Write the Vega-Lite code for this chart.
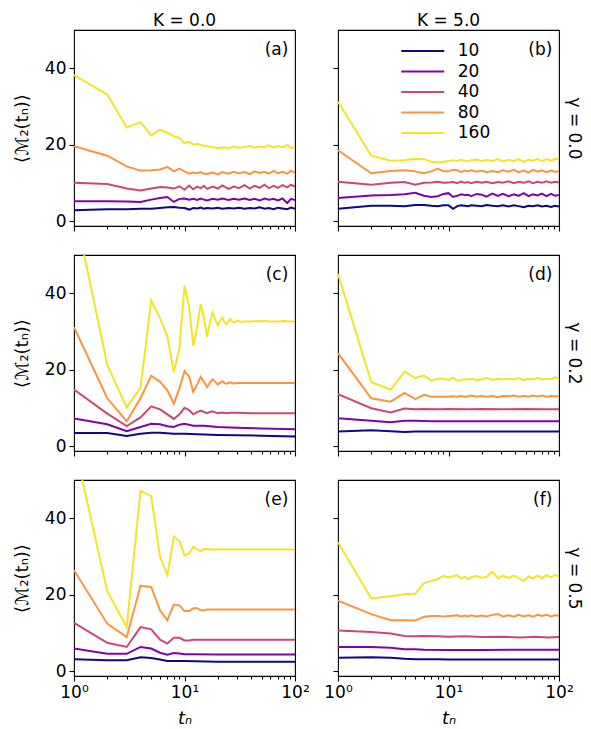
{
"$schema":"https://vega.github.io/schema/vega-lite/v6.json",
"autosize":{"type":"pad"},
"padding":{"left":12,"top":11,"right":5,"bottom":5},
"background":"white",
"spacing":13,
"resolve":{"legend":{"color":"independent"}},
"config":{
 "font":"DejaVu Sans",
 "view":{"stroke":"black","strokeWidth":1.1},
 "axis":{"domain":false,"grid":false,"labelFont":"DejaVu Sans","labelFontSize":17,"labelColor":"black","tickColor":"black","tickWidth":1.1,"tickSize":5,"labelPadding":3,"titleFont":"DejaVu Sans","titleFontSize":17,"titleFontWeight":"normal","titleColor":"black"},
 "title":{"font":"DejaVu Sans","fontSize":17,"fontWeight":"normal","color":"black"},
 "legend":{"labelFont":"DejaVu Sans","labelFontSize":17,"labelColor":"black"}
},
"data":{"values":[
{"p":"a","n":10,"t":1,"m":2.8},{"p":"a","n":10,"t":2,"m":3.1},{"p":"a","n":10,"t":3,"m":3.1},{"p":"a","n":10,"t":4,"m":3.2},{"p":"a","n":10,"t":5,"m":3.2},{"p":"a","n":10,"t":6,"m":3.4},{"p":"a","n":10,"t":7,"m":3.6},{"p":"a","n":10,"t":8,"m":3.7},{"p":"a","n":10,"t":9,"m":3.5},{"p":"a","n":10,"t":10,"m":3.4},{"p":"a","n":10,"t":11,"m":3.0},{"p":"a","n":10,"t":12,"m":3.4},{"p":"a","n":10,"t":13,"m":3.3},{"p":"a","n":10,"t":14,"m":3.5},{"p":"a","n":10,"t":15,"m":3.2},{"p":"a","n":10,"t":16,"m":3.4},{"p":"a","n":10,"t":18,"m":3.3},{"p":"a","n":10,"t":20,"m":3.5},{"p":"a","n":10,"t":22,"m":3.2},{"p":"a","n":10,"t":25,"m":3.4},{"p":"a","n":10,"t":28,"m":3.3},{"p":"a","n":10,"t":31,"m":3.5},{"p":"a","n":10,"t":35,"m":3.2},{"p":"a","n":10,"t":39,"m":3.4},{"p":"a","n":10,"t":43,"m":3.3},{"p":"a","n":10,"t":48,"m":3.6},{"p":"a","n":10,"t":53,"m":3.2},{"p":"a","n":10,"t":58,"m":3.4},{"p":"a","n":10,"t":64,"m":3.1},{"p":"a","n":10,"t":70,"m":3.5},{"p":"a","n":10,"t":77,"m":3.3},{"p":"a","n":10,"t":85,"m":3.1},{"p":"a","n":10,"t":92,"m":3.5},{"p":"a","n":10,"t":100,"m":3.2},
{"p":"a","n":20,"t":1,"m":5.2},{"p":"a","n":20,"t":2,"m":5.2},{"p":"a","n":20,"t":3,"m":5.1},{"p":"a","n":20,"t":4,"m":5.0},{"p":"a","n":20,"t":5,"m":5.6},{"p":"a","n":20,"t":6,"m":6.0},{"p":"a","n":20,"t":7,"m":6.3},{"p":"a","n":20,"t":8,"m":5.0},{"p":"a","n":20,"t":9,"m":5.8},{"p":"a","n":20,"t":10,"m":5.9},{"p":"a","n":20,"t":11,"m":5.6},{"p":"a","n":20,"t":12,"m":5.8},{"p":"a","n":20,"t":13,"m":5.5},{"p":"a","n":20,"t":14,"m":5.9},{"p":"a","n":20,"t":15,"m":5.6},{"p":"a","n":20,"t":16,"m":5.4},{"p":"a","n":20,"t":18,"m":5.8},{"p":"a","n":20,"t":20,"m":5.6},{"p":"a","n":20,"t":22,"m":5.9},{"p":"a","n":20,"t":25,"m":5.5},{"p":"a","n":20,"t":28,"m":5.8},{"p":"a","n":20,"t":31,"m":5.6},{"p":"a","n":20,"t":35,"m":5.9},{"p":"a","n":20,"t":39,"m":5.5},{"p":"a","n":20,"t":43,"m":5.8},{"p":"a","n":20,"t":48,"m":5.4},{"p":"a","n":20,"t":53,"m":5.9},{"p":"a","n":20,"t":58,"m":5.6},{"p":"a","n":20,"t":64,"m":5.8},{"p":"a","n":20,"t":70,"m":5.4},{"p":"a","n":20,"t":77,"m":5.9},{"p":"a","n":20,"t":85,"m":4.7},{"p":"a","n":20,"t":92,"m":5.8},{"p":"a","n":20,"t":100,"m":5.5},
{"p":"a","n":40,"t":1,"m":10.0},{"p":"a","n":40,"t":2,"m":9.7},{"p":"a","n":40,"t":3,"m":8.5},{"p":"a","n":40,"t":4,"m":8.0},{"p":"a","n":40,"t":5,"m":8.5},{"p":"a","n":40,"t":6,"m":8.9},{"p":"a","n":40,"t":7,"m":8.8},{"p":"a","n":40,"t":8,"m":8.5},{"p":"a","n":40,"t":9,"m":9.1},{"p":"a","n":40,"t":10,"m":8.2},{"p":"a","n":40,"t":11,"m":9.3},{"p":"a","n":40,"t":12,"m":8.3},{"p":"a","n":40,"t":13,"m":9.0},{"p":"a","n":40,"t":14,"m":8.6},{"p":"a","n":40,"t":15,"m":9.2},{"p":"a","n":40,"t":16,"m":8.4},{"p":"a","n":40,"t":18,"m":9.0},{"p":"a","n":40,"t":20,"m":8.5},{"p":"a","n":40,"t":22,"m":9.3},{"p":"a","n":40,"t":25,"m":8.4},{"p":"a","n":40,"t":28,"m":9.0},{"p":"a","n":40,"t":31,"m":8.6},{"p":"a","n":40,"t":35,"m":9.4},{"p":"a","n":40,"t":39,"m":8.5},{"p":"a","n":40,"t":43,"m":9.2},{"p":"a","n":40,"t":48,"m":8.7},{"p":"a","n":40,"t":53,"m":9.5},{"p":"a","n":40,"t":58,"m":8.6},{"p":"a","n":40,"t":64,"m":9.2},{"p":"a","n":40,"t":70,"m":8.7},{"p":"a","n":40,"t":77,"m":9.4},{"p":"a","n":40,"t":85,"m":8.8},{"p":"a","n":40,"t":92,"m":9.5},{"p":"a","n":40,"t":100,"m":9.0},
{"p":"a","n":80,"t":1,"m":19.6},{"p":"a","n":80,"t":2,"m":17.1},{"p":"a","n":80,"t":3,"m":14.3},{"p":"a","n":80,"t":4,"m":13.2},{"p":"a","n":80,"t":5,"m":13.3},{"p":"a","n":80,"t":6,"m":13.5},{"p":"a","n":80,"t":7,"m":14.2},{"p":"a","n":80,"t":8,"m":13.0},{"p":"a","n":80,"t":9,"m":13.7},{"p":"a","n":80,"t":10,"m":13.0},{"p":"a","n":80,"t":11,"m":12.4},{"p":"a","n":80,"t":12,"m":12.7},{"p":"a","n":80,"t":13,"m":12.5},{"p":"a","n":80,"t":14,"m":12.8},{"p":"a","n":80,"t":15,"m":12.4},{"p":"a","n":80,"t":16,"m":12.3},{"p":"a","n":80,"t":18,"m":12.7},{"p":"a","n":80,"t":20,"m":12.2},{"p":"a","n":80,"t":22,"m":12.8},{"p":"a","n":80,"t":25,"m":12.4},{"p":"a","n":80,"t":28,"m":12.9},{"p":"a","n":80,"t":31,"m":12.5},{"p":"a","n":80,"t":35,"m":12.8},{"p":"a","n":80,"t":39,"m":12.3},{"p":"a","n":80,"t":43,"m":13.0},{"p":"a","n":80,"t":48,"m":12.6},{"p":"a","n":80,"t":53,"m":12.9},{"p":"a","n":80,"t":58,"m":12.4},{"p":"a","n":80,"t":64,"m":13.1},{"p":"a","n":80,"t":70,"m":12.5},{"p":"a","n":80,"t":77,"m":12.9},{"p":"a","n":80,"t":85,"m":12.4},{"p":"a","n":80,"t":92,"m":13.2},{"p":"a","n":80,"t":100,"m":12.6},
{"p":"a","n":160,"t":1,"m":38.2},{"p":"a","n":160,"t":2,"m":33.1},{"p":"a","n":160,"t":3,"m":24.5},{"p":"a","n":160,"t":4,"m":25.9},{"p":"a","n":160,"t":5,"m":22.4},{"p":"a","n":160,"t":6,"m":23.9},{"p":"a","n":160,"t":7,"m":23.1},{"p":"a","n":160,"t":8,"m":22.2},{"p":"a","n":160,"t":9,"m":21.7},{"p":"a","n":160,"t":10,"m":20.4},{"p":"a","n":160,"t":11,"m":20.7},{"p":"a","n":160,"t":12,"m":20.0},{"p":"a","n":160,"t":13,"m":20.2},{"p":"a","n":160,"t":14,"m":19.9},{"p":"a","n":160,"t":15,"m":19.7},{"p":"a","n":160,"t":16,"m":19.6},{"p":"a","n":160,"t":18,"m":19.4},{"p":"a","n":160,"t":20,"m":19.0},{"p":"a","n":160,"t":22,"m":19.3},{"p":"a","n":160,"t":25,"m":19.1},{"p":"a","n":160,"t":28,"m":19.5},{"p":"a","n":160,"t":31,"m":19.2},{"p":"a","n":160,"t":35,"m":19.4},{"p":"a","n":160,"t":39,"m":19.6},{"p":"a","n":160,"t":43,"m":19.2},{"p":"a","n":160,"t":48,"m":19.5},{"p":"a","n":160,"t":53,"m":19.3},{"p":"a","n":160,"t":58,"m":19.8},{"p":"a","n":160,"t":64,"m":19.2},{"p":"a","n":160,"t":70,"m":19.6},{"p":"a","n":160,"t":77,"m":19.3},{"p":"a","n":160,"t":85,"m":19.9},{"p":"a","n":160,"t":92,"m":19.1},{"p":"a","n":160,"t":100,"m":19.4},
{"p":"b","n":10,"t":1,"m":3.2},{"p":"b","n":10,"t":2,"m":4.0},{"p":"b","n":10,"t":3,"m":4.0},{"p":"b","n":10,"t":4,"m":3.9},{"p":"b","n":10,"t":5,"m":4.2},{"p":"b","n":10,"t":6,"m":4.2},{"p":"b","n":10,"t":7,"m":4.0},{"p":"b","n":10,"t":8,"m":3.9},{"p":"b","n":10,"t":9,"m":4.1},{"p":"b","n":10,"t":10,"m":4.1},{"p":"b","n":10,"t":11,"m":3.2},{"p":"b","n":10,"t":12,"m":3.9},{"p":"b","n":10,"t":13,"m":4.1},{"p":"b","n":10,"t":14,"m":4.0},{"p":"b","n":10,"t":15,"m":3.9},{"p":"b","n":10,"t":16,"m":4.1},{"p":"b","n":10,"t":18,"m":4.0},{"p":"b","n":10,"t":20,"m":3.9},{"p":"b","n":10,"t":22,"m":4.2},{"p":"b","n":10,"t":25,"m":4.0},{"p":"b","n":10,"t":28,"m":3.9},{"p":"b","n":10,"t":31,"m":4.1},{"p":"b","n":10,"t":35,"m":3.8},{"p":"b","n":10,"t":39,"m":4.1},{"p":"b","n":10,"t":43,"m":3.9},{"p":"b","n":10,"t":48,"m":3.6},{"p":"b","n":10,"t":53,"m":4.0},{"p":"b","n":10,"t":58,"m":3.9},{"p":"b","n":10,"t":64,"m":4.1},{"p":"b","n":10,"t":70,"m":3.8},{"p":"b","n":10,"t":77,"m":4.0},{"p":"b","n":10,"t":85,"m":3.7},{"p":"b","n":10,"t":92,"m":4.0},{"p":"b","n":10,"t":100,"m":3.8},
{"p":"b","n":20,"t":1,"m":6.0},{"p":"b","n":20,"t":2,"m":6.7},{"p":"b","n":20,"t":3,"m":6.8},{"p":"b","n":20,"t":4,"m":7.0},{"p":"b","n":20,"t":5,"m":7.4},{"p":"b","n":20,"t":6,"m":6.6},{"p":"b","n":20,"t":7,"m":6.3},{"p":"b","n":20,"t":8,"m":6.5},{"p":"b","n":20,"t":9,"m":7.1},{"p":"b","n":20,"t":10,"m":7.3},{"p":"b","n":20,"t":11,"m":6.3},{"p":"b","n":20,"t":12,"m":6.6},{"p":"b","n":20,"t":13,"m":7.0},{"p":"b","n":20,"t":14,"m":6.8},{"p":"b","n":20,"t":15,"m":6.9},{"p":"b","n":20,"t":16,"m":6.5},{"p":"b","n":20,"t":18,"m":7.1},{"p":"b","n":20,"t":20,"m":6.9},{"p":"b","n":20,"t":22,"m":6.4},{"p":"b","n":20,"t":25,"m":7.2},{"p":"b","n":20,"t":28,"m":6.6},{"p":"b","n":20,"t":31,"m":7.1},{"p":"b","n":20,"t":35,"m":6.5},{"p":"b","n":20,"t":39,"m":7.0},{"p":"b","n":20,"t":43,"m":6.6},{"p":"b","n":20,"t":48,"m":7.3},{"p":"b","n":20,"t":53,"m":6.5},{"p":"b","n":20,"t":58,"m":7.0},{"p":"b","n":20,"t":64,"m":6.7},{"p":"b","n":20,"t":70,"m":7.2},{"p":"b","n":20,"t":77,"m":6.5},{"p":"b","n":20,"t":85,"m":7.1},{"p":"b","n":20,"t":92,"m":6.6},{"p":"b","n":20,"t":100,"m":6.8},
{"p":"b","n":40,"t":1,"m":10.3},{"p":"b","n":40,"t":2,"m":9.5},{"p":"b","n":40,"t":3,"m":10.0},{"p":"b","n":40,"t":4,"m":10.2},{"p":"b","n":40,"t":5,"m":9.5},{"p":"b","n":40,"t":6,"m":10.0},{"p":"b","n":40,"t":7,"m":10.1},{"p":"b","n":40,"t":8,"m":10.3},{"p":"b","n":40,"t":9,"m":10.0},{"p":"b","n":40,"t":10,"m":10.1},{"p":"b","n":40,"t":11,"m":10.2},{"p":"b","n":40,"t":12,"m":9.9},{"p":"b","n":40,"t":13,"m":10.3},{"p":"b","n":40,"t":14,"m":10.0},{"p":"b","n":40,"t":15,"m":10.2},{"p":"b","n":40,"t":16,"m":9.9},{"p":"b","n":40,"t":18,"m":10.3},{"p":"b","n":40,"t":20,"m":10.0},{"p":"b","n":40,"t":22,"m":10.3},{"p":"b","n":40,"t":25,"m":9.9},{"p":"b","n":40,"t":28,"m":10.2},{"p":"b","n":40,"t":31,"m":10.0},{"p":"b","n":40,"t":35,"m":10.4},{"p":"b","n":40,"t":39,"m":9.9},{"p":"b","n":40,"t":43,"m":10.3},{"p":"b","n":40,"t":48,"m":10.0},{"p":"b","n":40,"t":53,"m":10.4},{"p":"b","n":40,"t":58,"m":9.9},{"p":"b","n":40,"t":64,"m":10.3},{"p":"b","n":40,"t":70,"m":10.0},{"p":"b","n":40,"t":77,"m":10.4},{"p":"b","n":40,"t":85,"m":10.0},{"p":"b","n":40,"t":92,"m":10.3},{"p":"b","n":40,"t":100,"m":10.1},
{"p":"b","n":80,"t":1,"m":18.5},{"p":"b","n":80,"t":2,"m":12.5},{"p":"b","n":80,"t":3,"m":13.1},{"p":"b","n":80,"t":4,"m":13.3},{"p":"b","n":80,"t":5,"m":13.0},{"p":"b","n":80,"t":6,"m":12.5},{"p":"b","n":80,"t":7,"m":13.0},{"p":"b","n":80,"t":8,"m":13.7},{"p":"b","n":80,"t":9,"m":13.0},{"p":"b","n":80,"t":10,"m":13.0},{"p":"b","n":80,"t":11,"m":13.4},{"p":"b","n":80,"t":12,"m":13.3},{"p":"b","n":80,"t":13,"m":12.8},{"p":"b","n":80,"t":14,"m":13.2},{"p":"b","n":80,"t":15,"m":13.0},{"p":"b","n":80,"t":16,"m":13.3},{"p":"b","n":80,"t":18,"m":12.9},{"p":"b","n":80,"t":20,"m":13.2},{"p":"b","n":80,"t":22,"m":12.8},{"p":"b","n":80,"t":25,"m":13.1},{"p":"b","n":80,"t":28,"m":12.8},{"p":"b","n":80,"t":31,"m":13.3},{"p":"b","n":80,"t":35,"m":12.9},{"p":"b","n":80,"t":39,"m":13.4},{"p":"b","n":80,"t":43,"m":12.8},{"p":"b","n":80,"t":48,"m":13.2},{"p":"b","n":80,"t":53,"m":12.7},{"p":"b","n":80,"t":58,"m":13.4},{"p":"b","n":80,"t":64,"m":12.9},{"p":"b","n":80,"t":70,"m":13.3},{"p":"b","n":80,"t":77,"m":12.8},{"p":"b","n":80,"t":85,"m":13.2},{"p":"b","n":80,"t":92,"m":12.9},{"p":"b","n":80,"t":100,"m":13.0},
{"p":"b","n":160,"t":1,"m":31.2},{"p":"b","n":160,"t":2,"m":17.1},{"p":"b","n":160,"t":3,"m":15.8},{"p":"b","n":160,"t":4,"m":15.9},{"p":"b","n":160,"t":5,"m":16.3},{"p":"b","n":160,"t":6,"m":16.2},{"p":"b","n":160,"t":7,"m":15.5},{"p":"b","n":160,"t":8,"m":15.3},{"p":"b","n":160,"t":9,"m":15.5},{"p":"b","n":160,"t":10,"m":15.7},{"p":"b","n":160,"t":11,"m":15.9},{"p":"b","n":160,"t":12,"m":15.7},{"p":"b","n":160,"t":13,"m":16.0},{"p":"b","n":160,"t":14,"m":15.8},{"p":"b","n":160,"t":15,"m":15.6},{"p":"b","n":160,"t":16,"m":15.9},{"p":"b","n":160,"t":18,"m":16.1},{"p":"b","n":160,"t":20,"m":15.7},{"p":"b","n":160,"t":22,"m":16.0},{"p":"b","n":160,"t":25,"m":15.8},{"p":"b","n":160,"t":28,"m":16.2},{"p":"b","n":160,"t":31,"m":15.6},{"p":"b","n":160,"t":35,"m":16.0},{"p":"b","n":160,"t":39,"m":15.7},{"p":"b","n":160,"t":43,"m":16.2},{"p":"b","n":160,"t":48,"m":15.5},{"p":"b","n":160,"t":53,"m":16.1},{"p":"b","n":160,"t":58,"m":15.8},{"p":"b","n":160,"t":64,"m":16.3},{"p":"b","n":160,"t":70,"m":15.7},{"p":"b","n":160,"t":77,"m":16.2},{"p":"b","n":160,"t":85,"m":15.8},{"p":"b","n":160,"t":92,"m":16.3},{"p":"b","n":160,"t":100,"m":16.2},
{"p":"c","n":10,"t":1,"m":3.4},{"p":"c","n":10,"t":2,"m":3.4},{"p":"c","n":10,"t":3,"m":2.6},{"p":"c","n":10,"t":4,"m":3.2},{"p":"c","n":10,"t":5,"m":3.5},{"p":"c","n":10,"t":6,"m":3.5},{"p":"c","n":10,"t":8,"m":3.2},{"p":"c","n":10,"t":10,"m":3.2},{"p":"c","n":10,"t":15,"m":3.0},{"p":"c","n":10,"t":20,"m":2.9},{"p":"c","n":10,"t":50,"m":2.7},{"p":"c","n":10,"t":100,"m":2.5},
{"p":"c","n":20,"t":1,"m":7.2},{"p":"c","n":20,"t":2,"m":5.7},{"p":"c","n":20,"t":3,"m":3.9},{"p":"c","n":20,"t":4,"m":5.0},{"p":"c","n":20,"t":5,"m":5.8},{"p":"c","n":20,"t":6,"m":5.7},{"p":"c","n":20,"t":7,"m":5.2},{"p":"c","n":20,"t":8,"m":5.0},{"p":"c","n":20,"t":9,"m":5.6},{"p":"c","n":20,"t":10,"m":5.8},{"p":"c","n":20,"t":12,"m":5.3},{"p":"c","n":20,"t":15,"m":5.3},{"p":"c","n":20,"t":20,"m":5.0},{"p":"c","n":20,"t":30,"m":4.8},{"p":"c","n":20,"t":50,"m":4.6},{"p":"c","n":20,"t":100,"m":4.4},
{"p":"c","n":40,"t":1,"m":14.8},{"p":"c","n":40,"t":2,"m":8.5},{"p":"c","n":40,"t":3,"m":5.2},{"p":"c","n":40,"t":4,"m":7.5},{"p":"c","n":40,"t":5,"m":10.4},{"p":"c","n":40,"t":6,"m":9.6},{"p":"c","n":40,"t":7,"m":8.3},{"p":"c","n":40,"t":8,"m":7.1},{"p":"c","n":40,"t":9,"m":8.3},{"p":"c","n":40,"t":10,"m":10.0},{"p":"c","n":40,"t":11,"m":9.4},{"p":"c","n":40,"t":12,"m":8.3},{"p":"c","n":40,"t":13,"m":8.9},{"p":"c","n":40,"t":14,"m":9.3},{"p":"c","n":40,"t":15,"m":8.9},{"p":"c","n":40,"t":16,"m":8.6},{"p":"c","n":40,"t":17,"m":8.9},{"p":"c","n":40,"t":18,"m":9.1},{"p":"c","n":40,"t":19,"m":8.8},{"p":"c","n":40,"t":20,"m":8.6},{"p":"c","n":40,"t":22,"m":8.8},{"p":"c","n":40,"t":24,"m":8.6},{"p":"c","n":40,"t":26,"m":8.7},{"p":"c","n":40,"t":30,"m":8.7},{"p":"c","n":40,"t":40,"m":8.6},{"p":"c","n":40,"t":60,"m":8.6},{"p":"c","n":40,"t":100,"m":8.6},
{"p":"c","n":80,"t":1,"m":31.1},{"p":"c","n":80,"t":2,"m":12.5},{"p":"c","n":80,"t":3,"m":6.5},{"p":"c","n":80,"t":4,"m":12.5},{"p":"c","n":80,"t":5,"m":18.4},{"p":"c","n":80,"t":6,"m":16.8},{"p":"c","n":80,"t":7,"m":14.6},{"p":"c","n":80,"t":8,"m":11.1},{"p":"c","n":80,"t":9,"m":15.1},{"p":"c","n":80,"t":10,"m":19.6},{"p":"c","n":80,"t":11,"m":18.2},{"p":"c","n":80,"t":12,"m":14.2},{"p":"c","n":80,"t":13,"m":16.0},{"p":"c","n":80,"t":14,"m":18.1},{"p":"c","n":80,"t":15,"m":16.8},{"p":"c","n":80,"t":16,"m":15.4},{"p":"c","n":80,"t":17,"m":16.6},{"p":"c","n":80,"t":18,"m":17.5},{"p":"c","n":80,"t":19,"m":16.8},{"p":"c","n":80,"t":20,"m":16.1},{"p":"c","n":80,"t":21,"m":16.6},{"p":"c","n":80,"t":22,"m":16.9},{"p":"c","n":80,"t":23,"m":16.5},{"p":"c","n":80,"t":24,"m":16.3},{"p":"c","n":80,"t":25,"m":16.5},{"p":"c","n":80,"t":26,"m":16.7},{"p":"c","n":80,"t":27,"m":16.5},{"p":"c","n":80,"t":28,"m":16.4},{"p":"c","n":80,"t":30,"m":16.5},{"p":"c","n":80,"t":40,"m":16.5},{"p":"c","n":80,"t":60,"m":16.5},{"p":"c","n":80,"t":100,"m":16.5},
{"p":"c","n":160,"t":1,"m":62.8},{"p":"c","n":160,"t":2,"m":21.2},{"p":"c","n":160,"t":3,"m":10.1},{"p":"c","n":160,"t":4,"m":15.3},{"p":"c","n":160,"t":5,"m":38.1},{"p":"c","n":160,"t":6,"m":33.5},{"p":"c","n":160,"t":7,"m":28.7},{"p":"c","n":160,"t":8,"m":19.3},{"p":"c","n":160,"t":9,"m":25.6},{"p":"c","n":160,"t":10,"m":42.0},{"p":"c","n":160,"t":11,"m":36.6},{"p":"c","n":160,"t":12,"m":26.3},{"p":"c","n":160,"t":13,"m":31.0},{"p":"c","n":160,"t":14,"m":37.2},{"p":"c","n":160,"t":15,"m":33.5},{"p":"c","n":160,"t":16,"m":28.6},{"p":"c","n":160,"t":17,"m":32.5},{"p":"c","n":160,"t":18,"m":35.0},{"p":"c","n":160,"t":19,"m":33.0},{"p":"c","n":160,"t":20,"m":31.6},{"p":"c","n":160,"t":21,"m":32.8},{"p":"c","n":160,"t":22,"m":33.6},{"p":"c","n":160,"t":23,"m":32.5},{"p":"c","n":160,"t":24,"m":31.9},{"p":"c","n":160,"t":25,"m":32.6},{"p":"c","n":160,"t":26,"m":33.2},{"p":"c","n":160,"t":27,"m":32.6},{"p":"c","n":160,"t":28,"m":32.3},{"p":"c","n":160,"t":29,"m":32.6},{"p":"c","n":160,"t":30,"m":32.9},{"p":"c","n":160,"t":32,"m":32.5},{"p":"c","n":160,"t":35,"m":32.6},{"p":"c","n":160,"t":40,"m":32.6},{"p":"c","n":160,"t":50,"m":32.7},{"p":"c","n":160,"t":60,"m":32.6},{"p":"c","n":160,"t":70,"m":32.6},{"p":"c","n":160,"t":80,"m":32.7},{"p":"c","n":160,"t":90,"m":32.6},{"p":"c","n":160,"t":100,"m":32.6},
{"p":"d","n":10,"t":1,"m":3.8},{"p":"d","n":10,"t":2,"m":4.1},{"p":"d","n":10,"t":3,"m":3.9},{"p":"d","n":10,"t":4,"m":3.7},{"p":"d","n":10,"t":5,"m":3.8},{"p":"d","n":10,"t":10,"m":3.8},{"p":"d","n":10,"t":100,"m":3.8},
{"p":"d","n":20,"t":1,"m":7.3},{"p":"d","n":20,"t":2,"m":6.6},{"p":"d","n":20,"t":3,"m":6.2},{"p":"d","n":20,"t":4,"m":6.6},{"p":"d","n":20,"t":5,"m":6.6},{"p":"d","n":20,"t":7,"m":6.5},{"p":"d","n":20,"t":10,"m":6.5},{"p":"d","n":20,"t":20,"m":6.5},{"p":"d","n":20,"t":50,"m":6.5},{"p":"d","n":20,"t":100,"m":6.5},
{"p":"d","n":40,"t":1,"m":13.6},{"p":"d","n":40,"t":2,"m":9.9},{"p":"d","n":40,"t":3,"m":8.8},{"p":"d","n":40,"t":4,"m":9.8},{"p":"d","n":40,"t":5,"m":9.6},{"p":"d","n":40,"t":6,"m":9.7},{"p":"d","n":40,"t":8,"m":9.6},{"p":"d","n":40,"t":10,"m":9.7},{"p":"d","n":40,"t":15,"m":9.6},{"p":"d","n":40,"t":20,"m":9.7},{"p":"d","n":40,"t":30,"m":9.6},{"p":"d","n":40,"t":50,"m":9.7},{"p":"d","n":40,"t":70,"m":9.6},{"p":"d","n":40,"t":100,"m":9.6},
{"p":"d","n":80,"t":1,"m":24.3},{"p":"d","n":80,"t":2,"m":12.5},{"p":"d","n":80,"t":3,"m":11.6},{"p":"d","n":80,"t":4,"m":13.9},{"p":"d","n":80,"t":5,"m":12.3},{"p":"d","n":80,"t":6,"m":13.4},{"p":"d","n":80,"t":7,"m":12.9},{"p":"d","n":80,"t":8,"m":12.9},{"p":"d","n":80,"t":9,"m":12.9},{"p":"d","n":80,"t":10,"m":12.9},{"p":"d","n":80,"t":11,"m":13.0},{"p":"d","n":80,"t":12,"m":12.9},{"p":"d","n":80,"t":13,"m":13.1},{"p":"d","n":80,"t":14,"m":12.9},{"p":"d","n":80,"t":15,"m":13.0},{"p":"d","n":80,"t":16,"m":13.2},{"p":"d","n":80,"t":18,"m":12.9},{"p":"d","n":80,"t":20,"m":13.1},{"p":"d","n":80,"t":22,"m":12.9},{"p":"d","n":80,"t":25,"m":13.1},{"p":"d","n":80,"t":28,"m":12.8},{"p":"d","n":80,"t":31,"m":13.1},{"p":"d","n":80,"t":35,"m":13.0},{"p":"d","n":80,"t":39,"m":13.2},{"p":"d","n":80,"t":43,"m":12.9},{"p":"d","n":80,"t":48,"m":13.1},{"p":"d","n":80,"t":53,"m":12.9},{"p":"d","n":80,"t":58,"m":13.2},{"p":"d","n":80,"t":64,"m":13.0},{"p":"d","n":80,"t":70,"m":13.2},{"p":"d","n":80,"t":77,"m":12.9},{"p":"d","n":80,"t":85,"m":13.1},{"p":"d","n":80,"t":92,"m":13.0},{"p":"d","n":80,"t":100,"m":13.0},
{"p":"d","n":160,"t":1,"m":45.1},{"p":"d","n":160,"t":2,"m":16.7},{"p":"d","n":160,"t":3,"m":14.8},{"p":"d","n":160,"t":4,"m":19.5},{"p":"d","n":160,"t":5,"m":17.8},{"p":"d","n":160,"t":6,"m":18.5},{"p":"d","n":160,"t":7,"m":17.1},{"p":"d","n":160,"t":8,"m":17.6},{"p":"d","n":160,"t":9,"m":17.6},{"p":"d","n":160,"t":10,"m":17.3},{"p":"d","n":160,"t":11,"m":17.9},{"p":"d","n":160,"t":12,"m":17.1},{"p":"d","n":160,"t":13,"m":17.2},{"p":"d","n":160,"t":14,"m":17.5},{"p":"d","n":160,"t":15,"m":17.4},{"p":"d","n":160,"t":16,"m":17.6},{"p":"d","n":160,"t":18,"m":17.3},{"p":"d","n":160,"t":20,"m":17.5},{"p":"d","n":160,"t":22,"m":17.8},{"p":"d","n":160,"t":25,"m":17.3},{"p":"d","n":160,"t":28,"m":17.6},{"p":"d","n":160,"t":31,"m":17.4},{"p":"d","n":160,"t":35,"m":17.7},{"p":"d","n":160,"t":39,"m":17.4},{"p":"d","n":160,"t":43,"m":17.8},{"p":"d","n":160,"t":48,"m":17.3},{"p":"d","n":160,"t":53,"m":17.6},{"p":"d","n":160,"t":58,"m":17.4},{"p":"d","n":160,"t":64,"m":17.9},{"p":"d","n":160,"t":70,"m":17.4},{"p":"d","n":160,"t":77,"m":17.7},{"p":"d","n":160,"t":85,"m":17.5},{"p":"d","n":160,"t":92,"m":17.9},{"p":"d","n":160,"t":100,"m":17.8},
{"p":"e","n":10,"t":1,"m":3.1},{"p":"e","n":10,"t":2,"m":2.8},{"p":"e","n":10,"t":3,"m":2.8},{"p":"e","n":10,"t":4,"m":3.6},{"p":"e","n":10,"t":5,"m":3.4},{"p":"e","n":10,"t":6,"m":3.0},{"p":"e","n":10,"t":7,"m":2.6},{"p":"e","n":10,"t":10,"m":2.6},{"p":"e","n":10,"t":20,"m":2.4},{"p":"e","n":10,"t":100,"m":2.4},
{"p":"e","n":20,"t":1,"m":5.9},{"p":"e","n":20,"t":2,"m":4.5},{"p":"e","n":20,"t":3,"m":4.5},{"p":"e","n":20,"t":4,"m":6.3},{"p":"e","n":20,"t":5,"m":5.9},{"p":"e","n":20,"t":6,"m":4.8},{"p":"e","n":20,"t":7,"m":4.3},{"p":"e","n":20,"t":8,"m":4.7},{"p":"e","n":20,"t":9,"m":4.6},{"p":"e","n":20,"t":10,"m":4.4},{"p":"e","n":20,"t":12,"m":4.4},{"p":"e","n":20,"t":20,"m":4.3},{"p":"e","n":20,"t":100,"m":4.3},
{"p":"e","n":40,"t":1,"m":12.6},{"p":"e","n":40,"t":2,"m":7.4},{"p":"e","n":40,"t":3,"m":6.3},{"p":"e","n":40,"t":4,"m":11.5},{"p":"e","n":40,"t":5,"m":10.9},{"p":"e","n":40,"t":6,"m":8.2},{"p":"e","n":40,"t":7,"m":7.2},{"p":"e","n":40,"t":8,"m":8.7},{"p":"e","n":40,"t":9,"m":8.7},{"p":"e","n":40,"t":10,"m":8.0},{"p":"e","n":40,"t":11,"m":8.0},{"p":"e","n":40,"t":12,"m":8.2},{"p":"e","n":40,"t":15,"m":8.2},{"p":"e","n":40,"t":30,"m":8.2},{"p":"e","n":40,"t":100,"m":8.2},
{"p":"e","n":80,"t":1,"m":26.4},{"p":"e","n":80,"t":2,"m":12.4},{"p":"e","n":80,"t":3,"m":8.9},{"p":"e","n":80,"t":4,"m":22.3},{"p":"e","n":80,"t":5,"m":22.0},{"p":"e","n":80,"t":6,"m":15.9},{"p":"e","n":80,"t":7,"m":13.3},{"p":"e","n":80,"t":8,"m":17.4},{"p":"e","n":80,"t":9,"m":17.2},{"p":"e","n":80,"t":10,"m":15.7},{"p":"e","n":80,"t":11,"m":15.7},{"p":"e","n":80,"t":12,"m":16.4},{"p":"e","n":80,"t":13,"m":16.4},{"p":"e","n":80,"t":14,"m":15.9},{"p":"e","n":80,"t":15,"m":15.9},{"p":"e","n":80,"t":16,"m":16.1},{"p":"e","n":80,"t":20,"m":16.1},{"p":"e","n":80,"t":50,"m":16.1},{"p":"e","n":80,"t":100,"m":16.1},
{"p":"e","n":160,"t":1,"m":59.7},{"p":"e","n":160,"t":2,"m":20.9},{"p":"e","n":160,"t":3,"m":11.5},{"p":"e","n":160,"t":4,"m":47.2},{"p":"e","n":160,"t":5,"m":45.8},{"p":"e","n":160,"t":6,"m":29.9},{"p":"e","n":160,"t":7,"m":25.1},{"p":"e","n":160,"t":8,"m":35.2},{"p":"e","n":160,"t":9,"m":34.0},{"p":"e","n":160,"t":10,"m":30.2},{"p":"e","n":160,"t":11,"m":30.8},{"p":"e","n":160,"t":12,"m":32.5},{"p":"e","n":160,"t":13,"m":31.9},{"p":"e","n":160,"t":14,"m":31.4},{"p":"e","n":160,"t":15,"m":31.9},{"p":"e","n":160,"t":16,"m":32.0},{"p":"e","n":160,"t":17,"m":31.8},{"p":"e","n":160,"t":20,"m":31.8},{"p":"e","n":160,"t":30,"m":31.8},{"p":"e","n":160,"t":50,"m":31.8},{"p":"e","n":160,"t":100,"m":31.8},
{"p":"f","n":10,"t":1,"m":3.5},{"p":"f","n":10,"t":2,"m":3.6},{"p":"f","n":10,"t":3,"m":3.5},{"p":"f","n":10,"t":4,"m":3.2},{"p":"f","n":10,"t":5,"m":3.1},{"p":"f","n":10,"t":8,"m":3.1},{"p":"f","n":10,"t":10,"m":3.0},{"p":"f","n":10,"t":30,"m":3.0},{"p":"f","n":10,"t":100,"m":3.0},
{"p":"f","n":20,"t":1,"m":6.3},{"p":"f","n":20,"t":2,"m":6.3},{"p":"f","n":20,"t":3,"m":6.1},{"p":"f","n":20,"t":4,"m":5.7},{"p":"f","n":20,"t":5,"m":5.7},{"p":"f","n":20,"t":6,"m":5.6},{"p":"f","n":20,"t":10,"m":5.5},{"p":"f","n":20,"t":20,"m":5.5},{"p":"f","n":20,"t":50,"m":5.6},{"p":"f","n":20,"t":100,"m":5.6},
{"p":"f","n":40,"t":1,"m":10.6},{"p":"f","n":40,"t":2,"m":10.2},{"p":"f","n":40,"t":3,"m":9.8},{"p":"f","n":40,"t":4,"m":9.2},{"p":"f","n":40,"t":5,"m":9.1},{"p":"f","n":40,"t":6,"m":9.2},{"p":"f","n":40,"t":8,"m":9.1},{"p":"f","n":40,"t":10,"m":9.0},{"p":"f","n":40,"t":14,"m":9.1},{"p":"f","n":40,"t":20,"m":8.9},{"p":"f","n":40,"t":30,"m":9.0},{"p":"f","n":40,"t":45,"m":8.8},{"p":"f","n":40,"t":60,"m":9.0},{"p":"f","n":40,"t":80,"m":8.8},{"p":"f","n":40,"t":100,"m":8.9},
{"p":"f","n":80,"t":1,"m":18.4},{"p":"f","n":80,"t":2,"m":14.9},{"p":"f","n":80,"t":3,"m":13.3},{"p":"f","n":80,"t":4,"m":13.3},{"p":"f","n":80,"t":5,"m":13.2},{"p":"f","n":80,"t":6,"m":14.2},{"p":"f","n":80,"t":7,"m":14.4},{"p":"f","n":80,"t":8,"m":14.4},{"p":"f","n":80,"t":9,"m":14.3},{"p":"f","n":80,"t":10,"m":14.4},{"p":"f","n":80,"t":11,"m":14.5},{"p":"f","n":80,"t":12,"m":14.6},{"p":"f","n":80,"t":13,"m":14.3},{"p":"f","n":80,"t":14,"m":14.5},{"p":"f","n":80,"t":15,"m":14.3},{"p":"f","n":80,"t":16,"m":14.6},{"p":"f","n":80,"t":18,"m":14.3},{"p":"f","n":80,"t":20,"m":14.5},{"p":"f","n":80,"t":22,"m":14.3},{"p":"f","n":80,"t":25,"m":14.7},{"p":"f","n":80,"t":28,"m":14.9},{"p":"f","n":80,"t":31,"m":14.3},{"p":"f","n":80,"t":35,"m":14.6},{"p":"f","n":80,"t":39,"m":14.2},{"p":"f","n":80,"t":43,"m":14.7},{"p":"f","n":80,"t":48,"m":14.3},{"p":"f","n":80,"t":53,"m":14.6},{"p":"f","n":80,"t":58,"m":14.2},{"p":"f","n":80,"t":64,"m":14.7},{"p":"f","n":80,"t":70,"m":14.4},{"p":"f","n":80,"t":77,"m":14.7},{"p":"f","n":80,"t":85,"m":14.3},{"p":"f","n":80,"t":92,"m":14.6},{"p":"f","n":80,"t":100,"m":14.5},
{"p":"f","n":160,"t":1,"m":33.7},{"p":"f","n":160,"t":2,"m":19.0},{"p":"f","n":160,"t":3,"m":19.6},{"p":"f","n":160,"t":4,"m":20.1},{"p":"f","n":160,"t":5,"m":20.2},{"p":"f","n":160,"t":6,"m":23.0},{"p":"f","n":160,"t":7,"m":23.6},{"p":"f","n":160,"t":8,"m":24.1},{"p":"f","n":160,"t":9,"m":24.9},{"p":"f","n":160,"t":10,"m":24.5},{"p":"f","n":160,"t":11,"m":24.8},{"p":"f","n":160,"t":12,"m":25.1},{"p":"f","n":160,"t":13,"m":24.2},{"p":"f","n":160,"t":14,"m":24.7},{"p":"f","n":160,"t":15,"m":24.0},{"p":"f","n":160,"t":16,"m":24.5},{"p":"f","n":160,"t":18,"m":24.9},{"p":"f","n":160,"t":20,"m":24.4},{"p":"f","n":160,"t":22,"m":24.6},{"p":"f","n":160,"t":25,"m":26.0},{"p":"f","n":160,"t":28,"m":24.3},{"p":"f","n":160,"t":31,"m":24.9},{"p":"f","n":160,"t":35,"m":24.4},{"p":"f","n":160,"t":39,"m":25.0},{"p":"f","n":160,"t":43,"m":24.3},{"p":"f","n":160,"t":48,"m":23.6},{"p":"f","n":160,"t":53,"m":24.8},{"p":"f","n":160,"t":58,"m":24.2},{"p":"f","n":160,"t":64,"m":25.0},{"p":"f","n":160,"t":70,"m":24.3},{"p":"f","n":160,"t":77,"m":25.1},{"p":"f","n":160,"t":85,"m":24.5},{"p":"f","n":160,"t":92,"m":25.2},{"p":"f","n":160,"t":100,"m":24.8}
]},
"hconcat":[
 {"bounds":"flush","spacing":29,"resolve":{"legend":{"color":"independent"}},"vconcat":[
  {"width":221,"height":196,"title":{"text":"K = 0.0","offset":0,"anchor":"middle","frame":"group"},"layer":[
   {"transform":[{"filter":"datum.p=='a'"}],"mark":{"type":"line","strokeWidth":2,"clip":true},
    "encoding":{
     "x":{"field":"t","type":"quantitative","scale":{"type":"log","domain":[1,100]},"axis":{"values":[1,2,3,4,5,6,7,8,9,10,20,30,40,50,60,70,80,90,100],"labels":false,"title":null,"tickSize":{"condition":{"test":"datum.value==1||datum.value==10||datum.value==100","value":5},"value":3}}},
     "y":{"field":"m","type":"quantitative","scale":{"domain":[-1.3,50],"nice":false,"zero":false},"axis":{"values":[0,20,40],"title":"⟨ℳ₂(tₙ)⟩","titlePadding":13,"titleFontSize":18}},
     "color":{"field":"n","type":"nominal","scale":{"domain":[10,20,40,80,160],"range":["#0d0887","#7e03a8","#cc4778","#f89540","#f5e326"]},"legend":null}}},
   {"data":{"values":[{"lab":"(a)"}]},"mark":{"type":"text","align":"right","baseline":"middle","fontSize":17,"font":"DejaVu Sans","color":"black"},
    "encoding":{"x":{"datum":87},"y":{"datum":44.8},"text":{"field":"lab"}}}]},
  {"width":221,"height":196,"layer":[
   {"transform":[{"filter":"datum.p=='c'"}],"mark":{"type":"line","strokeWidth":2,"clip":true},
    "encoding":{
     "x":{"field":"t","type":"quantitative","scale":{"type":"log","domain":[1,100]},"axis":{"values":[1,2,3,4,5,6,7,8,9,10,20,30,40,50,60,70,80,90,100],"labels":false,"title":null,"tickSize":{"condition":{"test":"datum.value==1||datum.value==10||datum.value==100","value":5},"value":3}}},
     "y":{"field":"m","type":"quantitative","scale":{"domain":[-1.3,50],"nice":false,"zero":false},"axis":{"values":[0,20,40],"title":"⟨ℳ₂(tₙ)⟩","titlePadding":13,"titleFontSize":18}},
     "color":{"field":"n","type":"nominal","scale":{"domain":[10,20,40,80,160],"range":["#0d0887","#7e03a8","#cc4778","#f89540","#f5e326"]},"legend":null}}},
   {"data":{"values":[{"lab":"(c)"}]},"mark":{"type":"text","align":"right","baseline":"middle","fontSize":17,"font":"DejaVu Sans","color":"black"},
    "encoding":{"x":{"datum":87},"y":{"datum":44.8},"text":{"field":"lab"}}}]},
  {"width":221,"height":196,"layer":[
   {"transform":[{"filter":"datum.p=='e'"}],"mark":{"type":"line","strokeWidth":2,"clip":true},
    "encoding":{
     "x":{"field":"t","type":"quantitative","scale":{"type":"log","domain":[1,100]},"axis":{"values":[1,2,3,4,5,6,7,8,9,10,20,30,40,50,60,70,80,90,100],"labelExpr":"datum.value==1?'10⁰':datum.value==10?'10¹':datum.value==100?'10²':''","labelOverlap":false,"labelFlush":false,"title":"tₙ","titleFontStyle":"italic","titleFontSize":18,"titlePadding":9,"tickSize":{"condition":{"test":"datum.value==1||datum.value==10||datum.value==100","value":5},"value":3}}},
     "y":{"field":"m","type":"quantitative","scale":{"domain":[-1.3,50],"nice":false,"zero":false},"axis":{"values":[0,20,40],"title":"⟨ℳ₂(tₙ)⟩","titlePadding":13,"titleFontSize":18}},
     "color":{"field":"n","type":"nominal","scale":{"domain":[10,20,40,80,160],"range":["#0d0887","#7e03a8","#cc4778","#f89540","#f5e326"]},"legend":null}}},
   {"data":{"values":[{"lab":"(e)"}]},"mark":{"type":"text","align":"right","baseline":"middle","fontSize":17,"font":"DejaVu Sans","color":"black"},
    "encoding":{"x":{"datum":87},"y":{"datum":44.8},"text":{"field":"lab"}}}]}
 ]},
 {"bounds":"flush","spacing":29,"resolve":{"legend":{"color":"independent"}},"vconcat":[
  {"width":221,"height":196,"title":{"text":"K = 5.0","offset":0,"anchor":"middle","frame":"group"},"resolve":{"axis":{"y":"independent"}},"layer":[
   {"transform":[{"filter":"datum.p=='b'"}],"mark":{"type":"line","strokeWidth":2,"clip":true},
    "encoding":{
     "x":{"field":"t","type":"quantitative","scale":{"type":"log","domain":[1,100]},"axis":{"values":[1,2,3,4,5,6,7,8,9,10,20,30,40,50,60,70,80,90,100],"labels":false,"title":null,"tickSize":{"condition":{"test":"datum.value==1||datum.value==10||datum.value==100","value":5},"value":3}}},
     "y":{"field":"m","type":"quantitative","scale":{"domain":[-1.3,50],"nice":false,"zero":false},"axis":{"values":[0,20,40],"labels":false,"title":null}},
     "color":{"field":"n","type":"nominal","scale":{"domain":[10,20,40,80,160],"range":["#0d0887","#7e03a8","#cc4778","#f89540","#f5e326"]},
      "legend":{"orient":"none","legendX":72.75,"legendY":9,"title":null,"symbolType":"M-2,0L2,0","symbolSize":462,"symbolStrokeWidth":2,"labelFontSize":17,"labelOffset":23,"rowPadding":0.5,"padding":0}}}},
   {"data":{"values":[{"lab":"(b)"}]},"mark":{"type":"text","align":"right","baseline":"middle","fontSize":17,"font":"DejaVu Sans","color":"black"},
    "encoding":{"x":{"datum":87},"y":{"datum":44.8,"axis":{"orient":"right","title":"γ = 0.0","ticks":false,"labels":false,"domain":false,"grid":false,"titlePadding":5,"titleAngle":90}},"text":{"field":"lab"}}}]},
  {"width":221,"height":196,"resolve":{"axis":{"y":"independent"}},"layer":[
   {"transform":[{"filter":"datum.p=='d'"}],"mark":{"type":"line","strokeWidth":2,"clip":true},
    "encoding":{
     "x":{"field":"t","type":"quantitative","scale":{"type":"log","domain":[1,100]},"axis":{"values":[1,2,3,4,5,6,7,8,9,10,20,30,40,50,60,70,80,90,100],"labels":false,"title":null,"tickSize":{"condition":{"test":"datum.value==1||datum.value==10||datum.value==100","value":5},"value":3}}},
     "y":{"field":"m","type":"quantitative","scale":{"domain":[-1.3,50],"nice":false,"zero":false},"axis":{"values":[0,20,40],"labels":false,"title":null}},
     "color":{"field":"n","type":"nominal","scale":{"domain":[10,20,40,80,160],"range":["#0d0887","#7e03a8","#cc4778","#f89540","#f5e326"]},"legend":null}}},
   {"data":{"values":[{"lab":"(d)"}]},"mark":{"type":"text","align":"right","baseline":"middle","fontSize":17,"font":"DejaVu Sans","color":"black"},
    "encoding":{"x":{"datum":87},"y":{"datum":44.8,"axis":{"orient":"right","title":"γ = 0.2","ticks":false,"labels":false,"domain":false,"grid":false,"titlePadding":5,"titleAngle":90}},"text":{"field":"lab"}}}]},
  {"width":221,"height":196,"resolve":{"axis":{"y":"independent"}},"layer":[
   {"transform":[{"filter":"datum.p=='f'"}],"mark":{"type":"line","strokeWidth":2,"clip":true},
    "encoding":{
     "x":{"field":"t","type":"quantitative","scale":{"type":"log","domain":[1,100]},"axis":{"values":[1,2,3,4,5,6,7,8,9,10,20,30,40,50,60,70,80,90,100],"labelExpr":"datum.value==1?'10⁰':datum.value==10?'10¹':datum.value==100?'10²':''","labelOverlap":false,"labelFlush":false,"title":"tₙ","titleFontStyle":"italic","titleFontSize":18,"titlePadding":9,"tickSize":{"condition":{"test":"datum.value==1||datum.value==10||datum.value==100","value":5},"value":3}}},
     "y":{"field":"m","type":"quantitative","scale":{"domain":[-1.3,50],"nice":false,"zero":false},"axis":{"values":[0,20,40],"labels":false,"title":null}},
     "color":{"field":"n","type":"nominal","scale":{"domain":[10,20,40,80,160],"range":["#0d0887","#7e03a8","#cc4778","#f89540","#f5e326"]},"legend":null}}},
   {"data":{"values":[{"lab":"(f)"}]},"mark":{"type":"text","align":"right","baseline":"middle","fontSize":17,"font":"DejaVu Sans","color":"black"},
    "encoding":{"x":{"datum":87},"y":{"datum":44.8,"axis":{"orient":"right","title":"γ = 0.5","ticks":false,"labels":false,"domain":false,"grid":false,"titlePadding":5,"titleAngle":90}},"text":{"field":"lab"}}}]}
 ]}
]
}
